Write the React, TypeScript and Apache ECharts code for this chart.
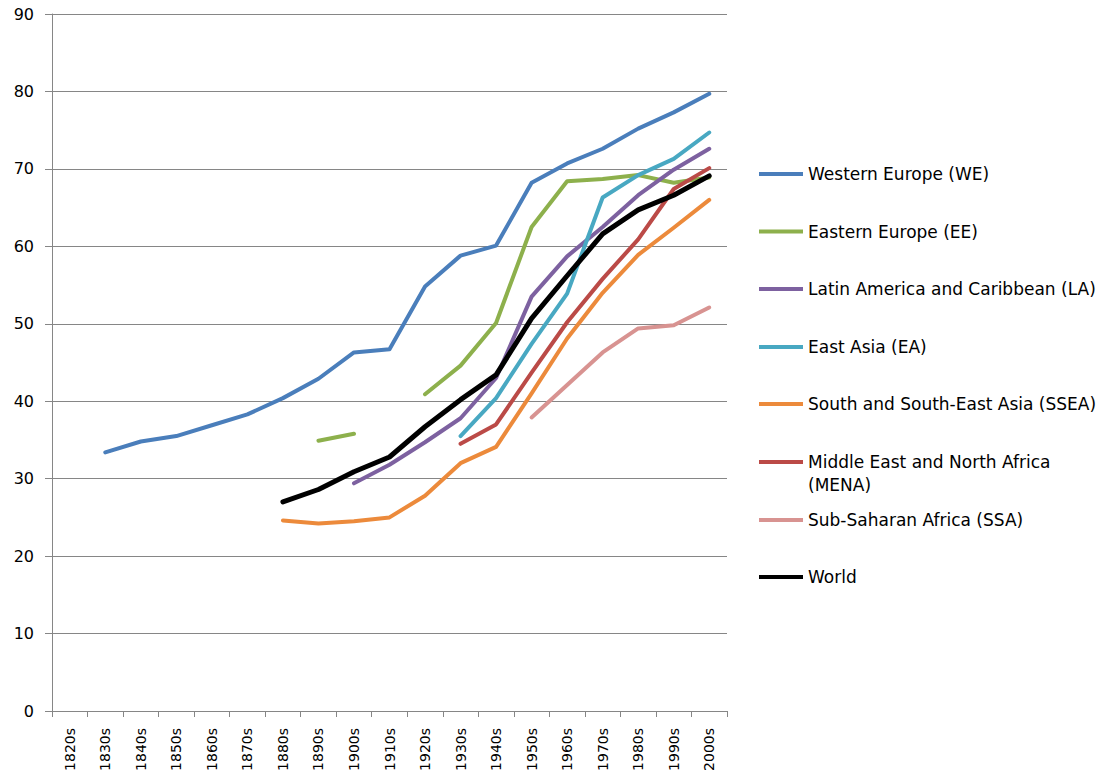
import React, { useEffect, useRef } from "react";
import * as echarts from "echarts";

const categories = ["1820s","1830s","1840s","1850s","1860s","1870s","1880s","1890s","1900s","1910s","1920s","1930s","1940s","1950s","1960s","1970s","1980s","1990s","2000s"];
const yTicks = { min: 0, max: 90, interval: 10 };

const westernEurope = [null, 33.4, 34.8, 35.5, 36.9, 38.3, 40.4, 42.9, 46.3, 46.7, 54.8, 58.8, 60.1, 68.2, 70.7, 72.6, 75.2, 77.3, 79.7];
const easternEurope = [null, null, null, null, null, null, null, 34.9, 35.8, null, 40.9, 44.6, 50.1, 62.5, 68.4, 68.7, 69.2, 68.2, 68.9];
const latinAmerica = [null, null, null, null, null, null, null, null, 29.4, 31.8, 34.7, 37.8, 43.0, 53.5, 58.7, 62.5, 66.6, 69.9, 72.6];
const eastAsia = [null, null, null, null, null, null, null, null, null, null, null, 35.5, 40.4, 47.4, 53.9, 66.3, 69.2, 71.3, 74.7];
const southAsia = [null, null, null, null, null, null, 24.6, 24.2, 24.5, 25.0, 27.8, 32.0, 34.1, 41.0, 48.1, 54.0, 58.9, 62.4, 66.0];
const mena = [null, null, null, null, null, null, null, null, null, null, null, 34.5, 37.0, 43.7, 50.2, 55.8, 60.9, 67.4, 70.1];
const ssa = [null, null, null, null, null, null, null, null, null, null, null, null, null, 37.9, 42.1, 46.3, 49.4, 49.8, 52.1];
const world = [null, null, null, null, null, null, 27.0, 28.6, 30.9, 32.8, 36.7, 40.2, 43.4, 50.7, 56.2, 61.6, 64.7, 66.6, 69.1];

const seriesDefs = [
  { name: "Western Europe (WE)", data: westernEurope, color: "#4A7EBB", width: 4 },
  { name: "Eastern Europe (EE)", data: easternEurope, color: "#8DB04C", width: 4 },
  { name: "Latin America and Caribbean (LA)", data: latinAmerica, color: "#7D61A0", width: 4 },
  { name: "East Asia (EA)", data: eastAsia, color: "#48A8C2", width: 4 },
  { name: "South and South-East Asia (SSEA)", data: southAsia, color: "#EC8A3B", width: 4 },
  { name: "Middle East and North Africa (MENA)", data: mena, color: "#BB4A47", width: 4 },
  { name: "Sub-Saharan Africa (SSA)", data: ssa, color: "#D89391", width: 4 },
  { name: "World", data: world, color: "#000000", width: 5 },
];

const legendCenters = [174, 231.5, 289, 347, 404, 462, 520, 577];

const FONT = "'DejaVu Sans', sans-serif";

export default function App() {
  const ref = useRef<HTMLDivElement>(null);
  useEffect(() => {
    if (!ref.current) return;
    const chart = echarts.init(ref.current, undefined, { renderer: "svg" });
    const LH = 23;
    const legends = seriesDefs.map((s, i) => {
      const isMena = s.name.startsWith("Middle East");
      return {
        data: [s.name],
        left: 754,
        top: (isMena ? legendCenters[i] - 1.5 * LH : legendCenters[i] - LH / 2) - 5,
        orient: "vertical",
        icon: "rect",
        itemWidth: 44,
        itemHeight: 4,
        itemGap: 0,
        selectedMode: false,
        formatter: isMena ? () => "\u00a0\nMiddle East and North Africa\n(MENA)" : undefined,
        textStyle: {
          fontFamily: FONT,
          fontSize: 17,
          color: "#000",
          lineHeight: LH,
        },
      };
    });
    chart.setOption({
      animation: false,
      backgroundColor: "#fff",
      grid: {
        left: 52,
        right: 378,
        top: 14,
        bottom: 63,
        containLabel: false,
        outerBoundsMode: "none",
      },
      legend: legends,
      xAxis: {
        type: "category",
        data: categories,
        boundaryGap: true,
        axisLine: { lineStyle: { color: "#868686", width: 1 } },
        axisTick: { show: true, interval: 0, length: 6, lineStyle: { color: "#868686" } },
        axisLabel: {
          interval: 0,
          rotate: 90,
          margin: 17,
          fontFamily: FONT,
          fontSize: 14,
          color: "#000",
        },
        splitLine: { show: false },
      },
      yAxis: {
        type: "value",
        min: yTicks.min,
        max: yTicks.max,
        interval: yTicks.interval,
        axisLine: { show: true, lineStyle: { color: "#868686", width: 1 } },
        axisTick: { show: true, length: 7, lineStyle: { color: "#868686" } },
        axisLabel: { margin: 18, fontFamily: FONT, fontSize: 16, color: "#000" },
        splitLine: { show: true, lineStyle: { color: "#868686", width: 1 } },
      },
      series: seriesDefs.map((s) => ({
        name: s.name,
        type: "line",
        data: s.data,
        showSymbol: false,
        symbol: "none",
        connectNulls: false,
        color: s.color,
        lineStyle: { color: s.color, width: s.width, cap: "round", join: "round" },
        z: s.name === "World" ? 10 : 2,
      })),
    });
    return () => chart.dispose();
  }, []);
  return (
    <div
      ref={ref}
      style={{ position: "fixed", left: 0, top: 0, width: 1105, height: 774 }}
    />
  );
}
